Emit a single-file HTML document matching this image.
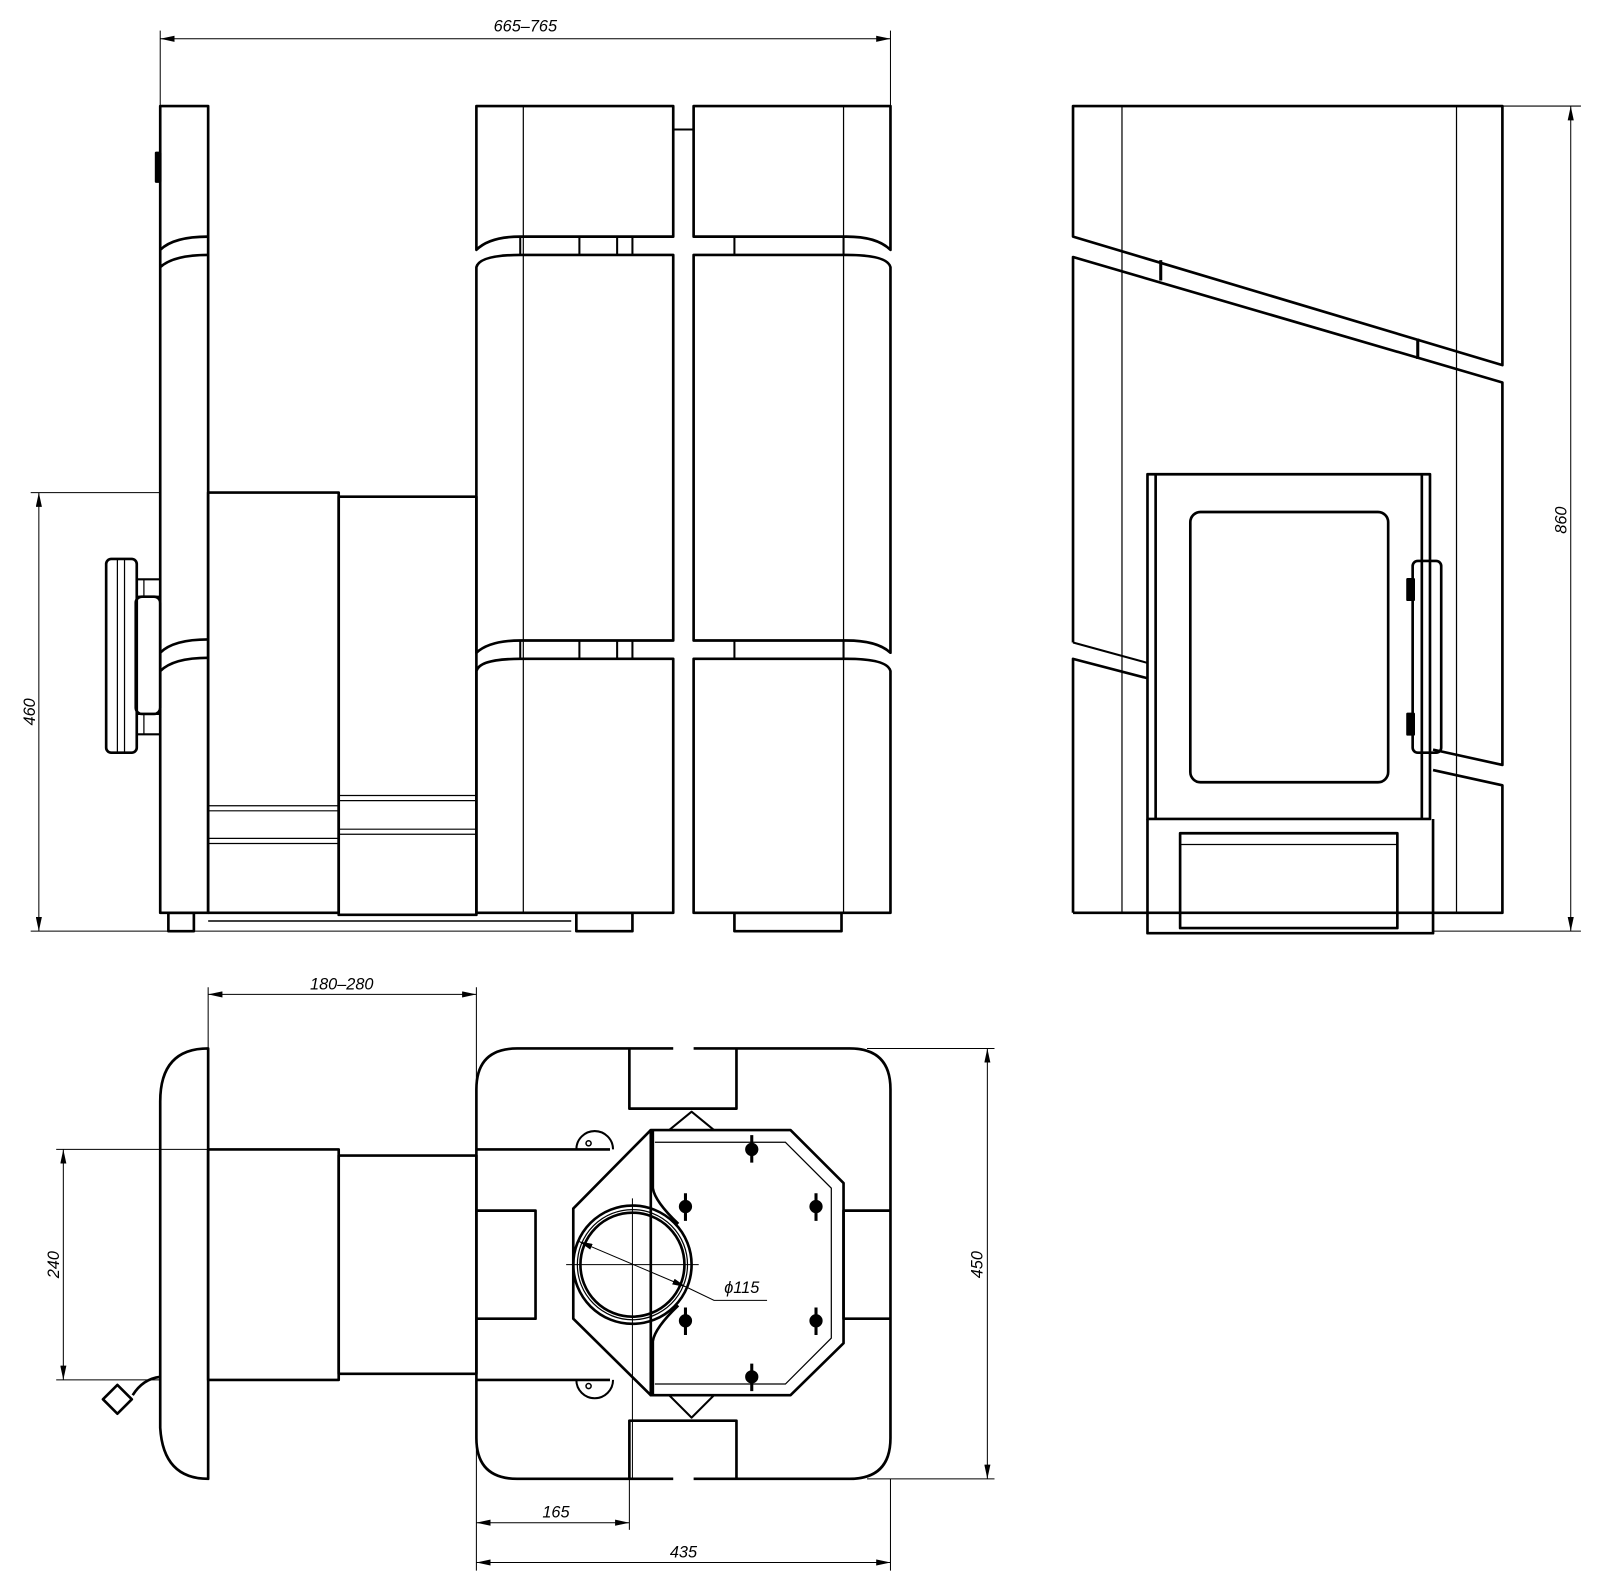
<!DOCTYPE html>
<html><head><meta charset="utf-8"><style>html,body{margin:0;padding:0;background:#fff}svg{display:block}</style></head>
<body>
<svg width="1600" height="1589" viewBox="0 0 1568.6 1558" xmlns="http://www.w3.org/2000/svg" font-family="Liberation Sans, sans-serif">
<defs>
<marker id="a" viewBox="0 0 14 6" refX="14" refY="3" markerWidth="14" markerHeight="6" orient="auto-start-reverse" markerUnits="userSpaceOnUse"><path d="M0,0 L14,3 L0,6 z" fill="#000"/></marker>
</defs>
<g fill="none" stroke="#000" stroke-width="1">
<line x1="157" y1="30" x2="157" y2="104"/><line x1="873" y1="30" x2="873" y2="104"/>
<line x1="157" y1="38" x2="873" y2="38" marker-start="url(#a)" marker-end="url(#a)"/>
<line x1="30" y1="483" x2="157" y2="483"/><line x1="30" y1="913" x2="560" y2="913"/>
<line x1="38" y1="483" x2="38" y2="913" marker-start="url(#a)" marker-end="url(#a)"/>
<line x1="1473" y1="104" x2="1550" y2="104"/><line x1="1405" y1="913" x2="1550" y2="913"/>
<line x1="1540" y1="104" x2="1540" y2="913" marker-start="url(#a)" marker-end="url(#a)"/>
<line x1="204" y1="968" x2="204" y2="1028"/><line x1="467" y1="968" x2="467" y2="1540"/>
<line x1="204" y1="975" x2="467" y2="975" marker-start="url(#a)" marker-end="url(#a)"/>
<line x1="55" y1="1127" x2="204" y2="1127"/><line x1="55" y1="1353" x2="157" y2="1353"/>
<line x1="62" y1="1127" x2="62" y2="1353" marker-start="url(#a)" marker-end="url(#a)"/>
<line x1="850" y1="1028" x2="975" y2="1028"/><line x1="850" y1="1450" x2="975" y2="1450"/>
<line x1="968" y1="1028" x2="968" y2="1450" marker-start="url(#a)" marker-end="url(#a)"/>
<line x1="617" y1="1450" x2="617" y2="1500"/><line x1="873" y1="1450" x2="873" y2="1540"/>
<line x1="467" y1="1493" x2="617" y2="1493" marker-start="url(#a)" marker-end="url(#a)"/>
<line x1="467" y1="1532" x2="873" y2="1532" marker-start="url(#a)" marker-end="url(#a)"/>
<line x1="567" y1="1217" x2="673" y2="1262" marker-start="url(#a)" marker-end="url(#a)"/>
<polyline points="673,1262 700,1275 752,1275"/>
<line x1="620" y1="1175" x2="620" y2="1450"/><line x1="555" y1="1240" x2="685" y2="1240"/>
</g>
<g font-size="16" font-style="italic" fill="#000">
<text x="515" y="31" text-anchor="middle">665–765</text>
<text x="335" y="970" text-anchor="middle">180–280</text>
<text x="545" y="1488" text-anchor="middle">165</text>
<text x="670" y="1527" text-anchor="middle">435</text>
<text x="710" y="1268">ϕ115</text>
<text transform="translate(34,698) rotate(-90)" text-anchor="middle">460</text>
<text transform="translate(58,1240) rotate(-90)" text-anchor="middle">240</text>
<text transform="translate(963,1240) rotate(-90)" text-anchor="middle">450</text>
<text transform="translate(1536,510) rotate(-90)" text-anchor="middle">860</text>
</g>
<g fill="none" stroke="#000" stroke-width="2.6" stroke-linejoin="round">
<rect x="157" y="104" width="47" height="791"/>
<path d="M157,245 Q170,232 204,232 M157,262 Q170,250 204,250"/>
<path d="M157,640 Q170,627 204,627 M157,658 Q170,645 204,645"/>
<rect x="153" y="150" width="4" height="28" fill="#000"/>
<rect x="204" y="483" width="128" height="412"/>
<rect x="332" y="487" width="135" height="410"/>
<rect x="165" y="895" width="25" height="18"/>
<line x1="204" y1="903" x2="560" y2="903" stroke-width="1.5"/>
<rect x="104" y="548" width="30" height="190" rx="5"/>
<rect x="133" y="585" width="24" height="115" rx="6"/>
<path d="M134,568 H157 M134,585 H157 M134,700 H157 M134,720 H157" stroke-width="2"/>
<path d="M467,104 H660 V232 H510 Q480,232 467,245 Z"/>
<path d="M680,104 H873 V245 Q860,232 830,232 H680 Z"/>
<path d="M467,262 Q470,250 510,250 H660 V628 H510 Q480,628 467,640 Z"/>
<path d="M680,250 H830 Q870,250 873,262 V640 Q860,628 830,628 H680 Z"/>
<path d="M467,658 Q470,646 510,646 H660 V895 H467 Z"/>
<path d="M680,646 H830 Q870,646 873,658 V895 H680 Z"/>
<line x1="660" y1="127" x2="680" y2="127" stroke-width="2"/>
<path d="M510,232 V250 M568,232 V250 M605,232 V250 M620,232 V250 M720,232 V250 M827,232 V250" stroke-width="2"/>
<path d="M510,628 V646 M568,628 V646 M605,628 V646 M620,628 V646 M720,628 V646 M827,628 V646" stroke-width="2"/>
<rect x="565" y="895" width="55" height="18"/><rect x="720" y="895" width="105" height="18"/>
</g>
<g fill="none" stroke="#000" stroke-width="1.2">
<line x1="513" y1="104" x2="513" y2="895"/><line x1="827" y1="104" x2="827" y2="895"/>
<path d="M204,790 H332 M204,795 H332 M204,822 H332 M204,827 H332 M332,780 H467 M332,785 H467 M332,813 H467 M332,818 H467"/>
<path d="M115,548 V738 M122,548 V738 M141,568 V585 M141,700 V720"/>
<line x1="1100" y1="104" x2="1100" y2="895"/><line x1="1428" y1="104" x2="1428" y2="895"/>
<path d="M1157,828 H1370"/>
</g>
<g fill="none" stroke="#000" stroke-width="2.6" stroke-linejoin="round">
<path d="M1052,630 V252 L1473,375 V750 L1405,735"/>
<path d="M1052,232 V104 H1473 V358 Z"/>
<path d="M1052,895 V646 L1125,665"/>
<path d="M1052,630 L1125,650" stroke-width="2"/>
<path d="M1405,755 L1473,770 V895 H1052"/>
<path d="M1138,255 V275 M1390,332 V352" stroke-width="3"/>
<rect x="1125" y="465" width="277" height="338"/>
<path d="M1133,465 V803 M1394,465 V803"/>
<rect x="1167" y="502" width="194" height="265" rx="10"/>
<rect x="1385" y="550" width="28" height="188" rx="5"/>
<path d="M1125,803 V915 H1405 V803"/>
<rect x="1157" y="817" width="213" height="93"/>
<rect x="1380" y="568" width="6" height="20" fill="#000"/><rect x="1380" y="700" width="6" height="20" fill="#000"/>
<!-- TOP VIEW -->
<path d="M204,1028 Q157,1028 157,1080 V1400 Q160,1450 204,1450 Z"/>
<rect x="204" y="1127" width="128" height="226"/>
<rect x="332" y="1133" width="135" height="214"/>
<path d="M467,1127 H598 M467,1353 H598"/>
<path d="M157,1350 Q140,1352 130,1368"/>
<rect x="105" y="1362" width="20" height="20" transform="rotate(45 115 1372)"/>
<path d="M660,1028 H507 Q467,1028 467,1068 V1410 Q467,1450 507,1450 H660 M680,1028 H833 Q873,1028 873,1068 V1410 Q873,1450 833,1450 H680"/>
<path d="M617,1028 V1087 H722 V1028 M617,1450 V1393 H722 V1450"/>
<path d="M467,1187 H525 V1293 H467 M873,1187 H827 V1293 H873"/>
<path d="M638,1108 H775 L827,1160 V1317 L775,1368 H638 Z"/>
<path d="M638,1108 L562,1185 V1293 L638,1368"/>
<path d="M640,1108 V1165 Q642,1178 665,1200 M640,1368 V1315 Q642,1302 665,1280"/>
<path d="M656,1108 L678,1090 L700,1108 M656,1368 L678,1390 L700,1368" stroke-width="2"/>
<circle cx="620" cy="1240" r="58"/><circle cx="620" cy="1240" r="51"/>
<path d="M565,1127 A18,18 0 0 1 601,1127 M565,1353 A18,18 0 0 0 601,1353" stroke-width="2"/>
<circle cx="577" cy="1121" r="2.5" stroke-width="1.5"/><circle cx="577" cy="1359" r="2.5" stroke-width="1.5"/>
</g>
<g fill="none" stroke="#000" stroke-width="1.2">
<circle cx="620" cy="1240" r="54"/>
<path d="M642,1120 H770 L815,1165 V1312 L770,1357 H642"/>
</g>
<g stroke="#000" stroke-width="3" fill="#000">
<path d="M737,1113 V1140 M672,1170 V1197 M800,1170 V1197 M672,1282 V1309 M800,1282 V1309 M737,1337 V1364"/>
<circle cx="737" cy="1127" r="5"/><circle cx="672" cy="1183" r="5"/><circle cx="800" cy="1183" r="5"/>
<circle cx="672" cy="1295" r="5"/><circle cx="800" cy="1295" r="5"/><circle cx="737" cy="1350" r="5"/>
</g>
</svg>
</body></html>
